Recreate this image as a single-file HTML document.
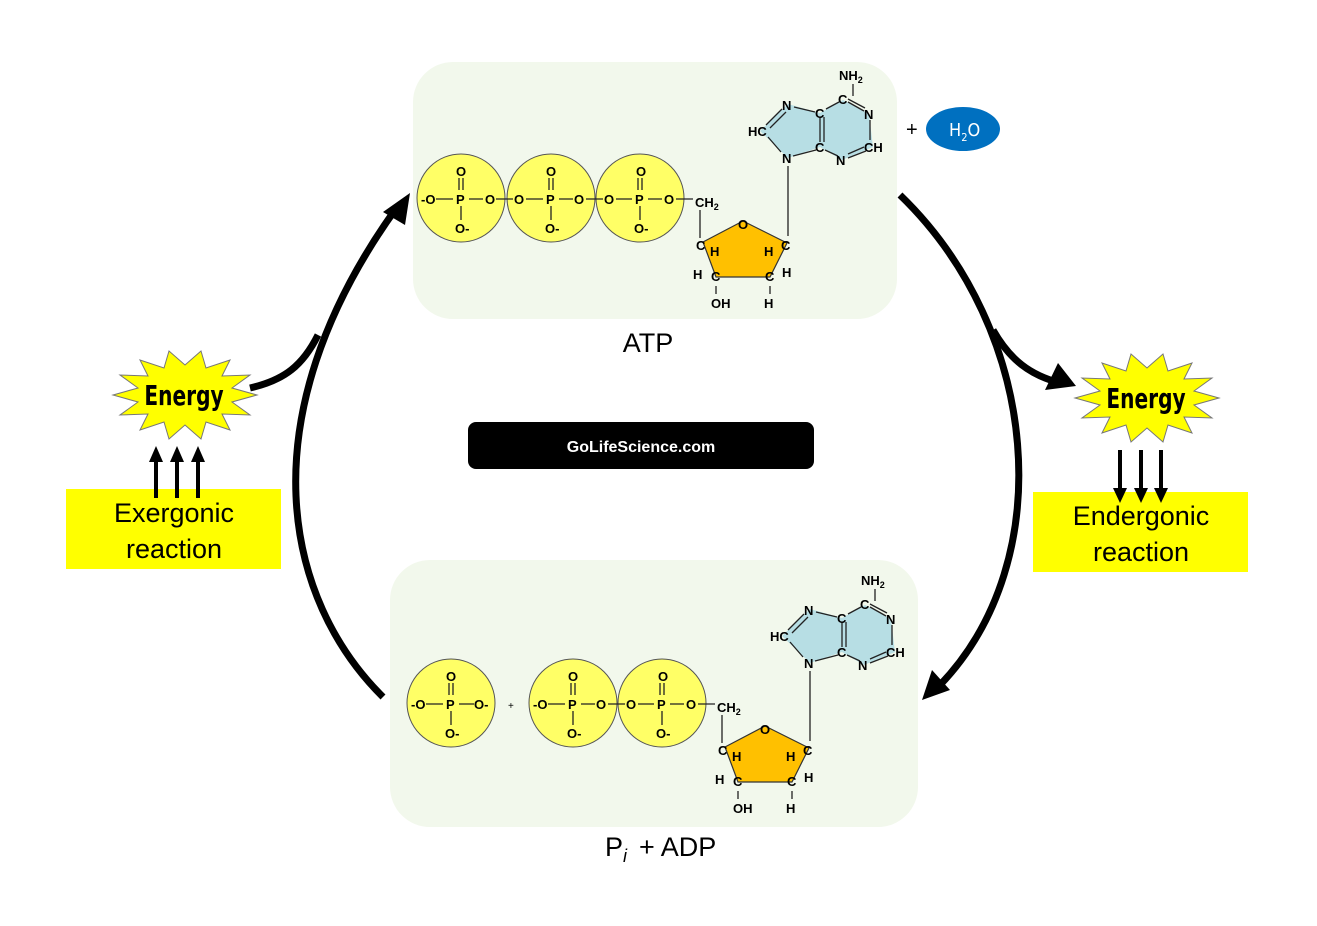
<!DOCTYPE html>
<html><head><meta charset="utf-8"><style>
html,body{margin:0;padding:0;background:#fff;}
svg{display:block;}
text{font-family:"Liberation Sans",Arial,Helvetica,sans-serif;}
.m{font-weight:bold;font-size:13px;fill:#000;}
.ln{stroke:#222;stroke-width:1.3;fill:none;}
.en{font-family:"Liberation Sans Narrow","DejaVu Sans Condensed",sans-serif;}
</style></head><body>
<svg width="1317" height="926" viewBox="0 0 1317 926" xmlns="http://www.w3.org/2000/svg" font-family="Liberation Sans, Arial, sans-serif">
<rect x="413" y="62" width="484" height="257" rx="40" fill="#F2F8EC"/>
<rect x="390" y="560" width="528" height="267" rx="40" fill="#F2F8EC"/>

<path d="M383,697 C285,600 245,420 395,210" stroke="#000" stroke-width="7" fill="none"/>
<polygon points="410,193 383,212 405,225" fill="#000"/>
<path d="M900,195 C1040,330 1060,560 940,685" stroke="#000" stroke-width="7" fill="none"/>
<polygon points="922,700 950,690 932,670" fill="#000"/>
<path d="M250,388 C285,380 303,365 318,335" stroke="#000" stroke-width="7" fill="none"/>
<path d="M993,330 C1010,360 1030,375 1060,383" stroke="#000" stroke-width="7" fill="none"/>
<polygon points="1076,386 1045,390 1058,363" fill="#000"/>

<g>
<circle cx="461" cy="198" r="44" fill="#FFFF66" stroke="#555" stroke-width="1"/>
<circle cx="551" cy="198" r="44" fill="#FFFF66" stroke="#555" stroke-width="1"/>
<circle cx="640" cy="198" r="44" fill="#FFFF66" stroke="#555" stroke-width="1"/>
<path class="ln" d="M436,199H453 M469,199H483 M496,199H513 M526,199H543 M559,199H573 M586,199H603 M616,199H632 M648,199H662 M676,199H693 M459,178V190 M463,178V190 M549,178V190 M553,178V190 M638,178V190 M642,178V190 M461,206V220 M551,206V220 M640,206V220"/>
<text class="m" x="421" y="204">-O</text>
<text class="m" x="456" y="204">P</text><text class="m" x="485" y="204">O</text>
<text class="m" x="514" y="204">O</text><text class="m" x="546" y="204">P</text><text class="m" x="574" y="204">O</text>
<text class="m" x="604" y="204">O</text><text class="m" x="635" y="204">P</text><text class="m" x="664" y="204">O</text>
<text class="m" x="456" y="176">O</text><text class="m" x="546" y="176">O</text><text class="m" x="636" y="176">O</text>
<text class="m" x="455" y="233">O-</text><text class="m" x="545" y="233">O-</text><text class="m" x="634" y="233">O-</text>
<text class="m" x="695" y="207">CH<tspan font-size="9" dy="3">2</tspan></text>
<polygon points="743,221 703,242 716,277 770,277 787,243" fill="#FFC000" stroke="#333" stroke-width="1.2"/>
<path class="ln" d="M700,210V238 M788,166V236"/>
<text class="m" x="738" y="229">O</text>
<text class="m" x="696" y="250">C</text><text class="m" x="710" y="256">H</text>
<text class="m" x="781" y="250">C</text><text class="m" x="764" y="256">H</text>
<text class="m" x="693" y="279">H</text><text class="m" x="711" y="281">C</text>
<text class="m" x="765" y="281">C</text><text class="m" x="782" y="277">H</text>
<text class="m" x="711" y="308">OH</text><text class="m" x="764" y="308">H</text>
<path class="ln" d="M716,286V294 M770,286V294"/>
<polygon points="788,104 820,113 843,100 869,114 873,147 842,160 820,147 788,158 760,131" fill="#B7DEE4"/>
<path class="ln" d="M794,107L815,112 M824,117V142 M820,117V142 M826,109L839,102 M848,102L864,111 M848,99L865,108 M870,120V140 M866,151L848,158 M864,147L848,154 M825,150L838,156 M816,150L793,156 M781,152L768,137 M782,109L766,125 M786,112L770,128 M853,84V96"/>
<text class="m" x="782" y="110">N</text><text class="m" x="815" y="118">C</text><text class="m" x="838" y="104">C</text>
<text class="m" x="864" y="119">N</text><text class="m" x="864" y="152">CH</text><text class="m" x="836" y="165">N</text>
<text class="m" x="815" y="152">C</text><text class="m" x="782" y="163">N</text><text class="m" x="748" y="136">HC</text>
<text class="m" x="839" y="80">NH<tspan font-size="9" dy="3">2</tspan></text>
</g>
<text x="906" y="136" font-size="20">+</text>
<ellipse cx="963" cy="129" rx="37" ry="22" fill="#0070C0"/>
<text class="en" x="949" y="136" font-size="18" fill="#fff">H<tspan font-size="11" dy="5">2</tspan><tspan dy="-5">O</tspan></text>
<text x="648" y="352" font-size="27" text-anchor="middle">ATP</text>

<g>
<circle cx="451" cy="703" r="44" fill="#FFFF66" stroke="#555" stroke-width="1"/>
<circle cx="573" cy="703" r="44" fill="#FFFF66" stroke="#555" stroke-width="1"/>
<circle cx="662" cy="703" r="44" fill="#FFFF66" stroke="#555" stroke-width="1"/>
<path class="ln" d="M426,704H443 M459,704H474 M548,704H565 M581,704H595 M608,704H625 M638,704H654 M670,704H684 M698,704H715 M449,683V695 M453,683V695 M571,683V695 M575,683V695 M660,683V695 M664,683V695 M451,711V725 M573,711V725 M662,711V725"/>
<text class="m" x="411" y="709">-O</text><text class="m" x="446" y="709">P</text><text class="m" x="474" y="709">O-</text>
<text class="m" x="446" y="681">O</text><text class="m" x="445" y="738">O-</text>
<text x="508" y="709" font-size="10">+</text>
<text class="m" x="533" y="709">-O</text>
<text class="m" x="568" y="709">P</text><text class="m" x="596" y="709">O</text>
<text class="m" x="626" y="709">O</text><text class="m" x="657" y="709">P</text><text class="m" x="686" y="709">O</text>
<text class="m" x="568" y="681">O</text><text class="m" x="658" y="681">O</text>
<text class="m" x="567" y="738">O-</text><text class="m" x="656" y="738">O-</text>
<text class="m" x="717" y="712">CH<tspan font-size="9" dy="3">2</tspan></text>
<polygon points="765,726 725,747 738,782 792,782 809,748" fill="#FFC000" stroke="#333" stroke-width="1.2"/>
<path class="ln" d="M722,715V743 M810,671V741"/>
<text class="m" x="760" y="734">O</text>
<text class="m" x="718" y="755">C</text><text class="m" x="732" y="761">H</text>
<text class="m" x="803" y="755">C</text><text class="m" x="786" y="761">H</text>
<text class="m" x="715" y="784">H</text><text class="m" x="733" y="786">C</text>
<text class="m" x="787" y="786">C</text><text class="m" x="804" y="782">H</text>
<text class="m" x="733" y="813">OH</text><text class="m" x="786" y="813">H</text>
<path class="ln" d="M738,791V799 M792,791V799"/>
<polygon points="810,609 842,618 865,605 891,619 895,652 864,665 842,652 810,663 782,636" fill="#B7DEE4"/>
<path class="ln" d="M816,612L837,617 M846,622V647 M842,622V647 M848,614L861,607 M870,607L886,616 M870,604L887,613 M892,625V645 M888,656L870,663 M886,652L870,659 M847,655L860,661 M838,655L815,661 M803,657L790,642 M804,614L788,630 M808,617L792,633 M875,589V601"/>
<text class="m" x="804" y="615">N</text><text class="m" x="837" y="623">C</text><text class="m" x="860" y="609">C</text>
<text class="m" x="886" y="624">N</text><text class="m" x="886" y="657">CH</text><text class="m" x="858" y="670">N</text>
<text class="m" x="837" y="657">C</text><text class="m" x="804" y="668">N</text><text class="m" x="770" y="641">HC</text>
<text class="m" x="861" y="585">NH<tspan font-size="9" dy="3">2</tspan></text>
</g>
<text x="605" y="856" font-size="27">P<tspan font-size="18" dy="6" font-style="italic">i</tspan><tspan dy="-6" dx="12">+ ADP</tspan></text>

<rect x="468" y="422" width="346" height="47" rx="8" fill="#000"/>
<text x="641" y="452" font-size="16" font-weight="bold" fill="#fff" text-anchor="middle">GoLifeScience.com</text>

<rect x="66" y="489" width="215" height="80" fill="#FFFF00"/>
<text x="174" y="522" font-size="27" text-anchor="middle">Exergonic</text>
<text x="174" y="558" font-size="27" text-anchor="middle">reaction</text>
<g stroke="#000" stroke-width="4"><path d="M156,498V460 M177,498V460 M198,498V460"/></g>
<g fill="#000"><polygon points="149,462 156,446 163,462"/><polygon points="170,462 177,446 184,462"/><polygon points="191,462 198,446 205,462"/></g>
<polygon points="257,395 232,402 250,415 222,414 230,430 206,422 201,439 185,425 169,439 164,422 140,430 148,414 120,415 138,402 113,395 138,388 120,375 148,376 140,360 164,368 169,351 185,365 201,351 206,368 230,360 222,376 250,375 232,388" fill="#FFFF00" stroke="#777" stroke-width="1"/>
<text class="en" x="0" y="405" font-size="28" font-weight="bold" text-anchor="middle" transform="translate(184,0) scale(0.8,1)">Energy</text>

<rect x="1033" y="492" width="215" height="80" fill="#FFFF00"/>
<text x="1141" y="525" font-size="27" text-anchor="middle">Endergonic</text>
<text x="1141" y="561" font-size="27" text-anchor="middle">reaction</text>
<g stroke="#000" stroke-width="4"><path d="M1120,450V490 M1141,450V490 M1161,450V490"/></g>
<g fill="#000"><polygon points="1113,488 1120,503 1127,488"/><polygon points="1134,488 1141,503 1148,488"/><polygon points="1154,488 1161,503 1168,488"/></g>
<g transform="translate(962,3)">
<polygon points="257,395 232,402 250,415 222,414 230,430 206,422 201,439 185,425 169,439 164,422 140,430 148,414 120,415 138,402 113,395 138,388 120,375 148,376 140,360 164,368 169,351 185,365 201,351 206,368 230,360 222,376 250,375 232,388" fill="#FFFF00" stroke="#777" stroke-width="1"/>
<text class="en" x="0" y="405" font-size="28" font-weight="bold" text-anchor="middle" transform="translate(184,0) scale(0.8,1)">Energy</text>
</g>
</svg>
</body></html>
